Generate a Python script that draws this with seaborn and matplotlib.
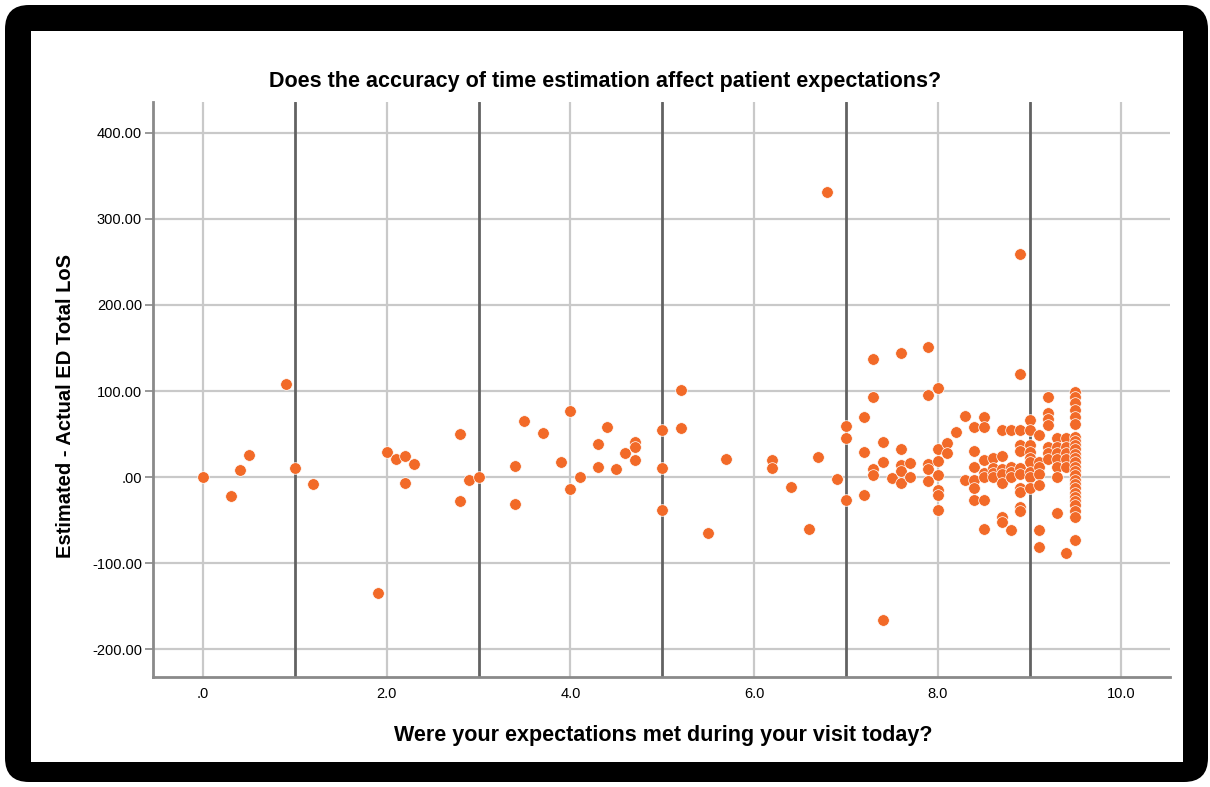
import matplotlib
matplotlib.use("Agg")
import matplotlib.pyplot as plt
from matplotlib.patches import FancyBboxPatch, Rectangle
import seaborn as sns
import pandas as pd

# Patient survey score vs. estimated minus actual ED length of stay (minutes)
expectations_low = [0.0, 0.3, 0.4, 0.5, 0.9, 1.0, 1.2, 1.9, 2.0, 2.1, 2.2, 2.2, 2.3,
                    2.8, 2.8, 2.9, 3.0, 3.4, 3.4, 3.5, 3.7, 3.9, 4.0, 4.0, 4.1, 4.3,
                    4.3, 4.4, 4.5, 4.6, 4.7, 4.7, 4.7, 5.0, 5.0, 5.0, 5.2, 5.2, 5.5,
                    5.7, 6.2, 6.2, 6.4, 6.6, 6.7, 6.8, 6.9]
los_diff_low = [0, -22, 8, 26, 108, 11, -8, -135, 29, 21, 24, -7, 15,
                50, -28, -3, 0, 13, -31, 65, 51, 18, 77, -14, 0, 38,
                12, 58, 9, 28, 41, 35, 20, 55, 10, -38, 101, 57, -65,
                21, 20, 11, -12, -60, 23, 331, -2]

expectations_mid = [7.0, 7.0, 7.0, 7.2, 7.2, 7.2, 7.3, 7.3, 7.3, 7.3, 7.4, 7.4, 7.4,
                    7.5, 7.6, 7.6, 7.6, 7.6, 7.6, 7.7, 7.7, 7.9, 7.9, 7.9, 7.9, 7.9,
                    8.0, 8.0, 8.0, 8.0, 8.0, 8.0, 8.0, 8.1, 8.1, 8.2, 8.3, 8.3,
                    8.4, 8.4, 8.4, 8.4, 8.4, 8.4,
                    8.5, 8.5, 8.5, 8.5, 8.5, 8.5, 8.5,
                    8.6, 8.6, 8.6, 8.6]
los_diff_mid = [59, 45, -27, 70, 29, -21, 137, 93, 9, 2, 41, 17, -166,
                -1, 144, 33, 14, 7, -7, 16, 0, 151, 95, 15, 9, -5,
                103, 33, 19, 2, -15, -21, -38, 40, 28, 52, 71, -4,
                58, 30, 12, -4, -13, -27,
                70, 58, 20, 5, 0, -27, -60,
                22, 10, 5, 0]

expectations_high = [8.7, 8.7, 8.7, 8.7, 8.7, 8.7, 8.7,
                     8.8, 8.8, 8.8, 8.8, 8.8,
                     8.9, 8.9, 8.9, 8.9, 8.9, 8.9, 8.9, 8.9, 8.9, 8.9, 8.9,
                     9.0, 9.0, 9.0, 9.0, 9.0, 9.0, 9.0, 9.0, 9.0,
                     9.1, 9.1, 9.1, 9.1, 9.1, 9.1, 9.1,
                     9.2, 9.2, 9.2, 9.2, 9.2, 9.2, 9.2,
                     9.3, 9.3, 9.3, 9.3, 9.3, 9.3, 9.3,
                     9.4, 9.4, 9.4, 9.4, 9.4, 9.4]
los_diff_high = [55, 24, 9, 3, -7, -46, -52,
                 55, 12, 6, 0, -62,
                 259, 120, 55, 37, 30, 10, 3, -13, -17, -35, -40,
                 66, 55, 37, 29, 22, 17, 6, 0, -13,
                 49, 17, 12, 3, -9, -62, -81,
                 93, 74, 68, 60, 35, 28, 21,
                 45, 35, 28, 21, 12, 0, -42,
                 45, 35, 28, 21, 12, -88]

los_diff_top_score = [99, 93, 86, 78, 70, 62, 47, 42, 37, 32, 27, 22, 17, 12, 7, 2,
                      -3, -8, -13, -18, -23, -28, -33, -40, -46, -73]
expectations_top = [9.5] * len(los_diff_top_score)

x_ticks = [0, 2, 4, 6, 8, 10]
x_tick_labels = [".0", "2.0", "4.0", "6.0", "8.0", "10.0"]
x_dark_lines = [1, 3, 5, 7, 9]
y_ticks = [-200, -100, 0, 100, 200, 300, 400]
y_tick_labels = ["-200.00", "-100.00", ".00", "100.00", "200.00", "300.00", "400.00"]

df = pd.DataFrame({
    "expectations": expectations_low + expectations_mid + expectations_high + expectations_top,
    "los_diff": los_diff_low + los_diff_mid + los_diff_high + los_diff_top_score,
})

sns.set_style("white")
plt.rcParams["font.family"] = ["Liberation Sans", "DejaVu Sans"]
plt.rcParams["axes.unicode_minus"] = False
plt.rcParams["text.color"] = "black"

W, H = 1210, 787
fig = plt.figure(figsize=(W / 100, H / 100), dpi=100, facecolor="white")

# Black rounded frame with white panel
frame = FancyBboxPatch((5, 5), 1203, 777, boxstyle="round,pad=0,rounding_size=24",
                       facecolor="black", edgecolor="none", transform=None, zorder=-3)
panel = Rectangle((31, 25), 1152, 731, facecolor="white", edgecolor="none",
                  transform=None, zorder=-2)
fig.add_artist(frame)
fig.add_artist(panel)

ax = fig.add_axes([153 / W, 1 - 677 / H, (1170 - 153) / W, (677 - 102) / H])
ax.set_facecolor("none")

for v in x_ticks:
    ax.axvline(v, color="#c9c9c9", lw=1.6, zorder=0)
for v in y_ticks:
    ax.axhline(v, color="#c9c9c9", lw=1.6, zorder=0)
for v in x_dark_lines:
    ax.axvline(v, color="#626262", lw=2.0, zorder=0.5)

sns.scatterplot(data=df, x="expectations", y="los_diff", ax=ax, color="#f26a28",
                s=70, edgecolor="white", linewidth=0.5, zorder=3, legend=False)

ax.set_xlim(-0.545, 10.53)
ax.set_ylim(-232.5, 436)
ax.set_xticks(x_ticks)
ax.set_xticklabels(x_tick_labels)
ax.set_yticks(y_ticks)
ax.set_yticklabels(y_tick_labels)
ax.tick_params(axis="x", length=0, pad=7, labelsize=10.5, labelcolor="black")
ax.tick_params(axis="y", length=6, width=1.2, color="#888888", pad=2, labelsize=10.5,
               labelcolor="black", left=True)
ax.set_xlabel("")
ax.set_ylabel("")

for side in ["top", "right"]:
    ax.spines[side].set_visible(False)
for side in ["left", "bottom"]:
    ax.spines[side].set_color("#8a8a8a")
    ax.spines[side].set_linewidth(2.0)

fig.text(0.5, 1 - 81 / H, "Does the accuracy of time estimation affect patient expectations?",
         ha="center", va="center", fontsize=15.5, fontweight="bold", color="black")
fig.text(663 / W, 1 - 735 / H, "Were your expectations met during your visit today?",
         ha="center", va="center", fontsize=15.5, fontweight="bold", color="black")
fig.text(66 / W, 1 - 406 / H, "Estimated - Actual ED Total LoS",
         ha="center", va="center", rotation=90, fontsize=14.5, fontweight="bold",
         color="black")

fig.savefig("out.png", dpi=100, facecolor="white")
